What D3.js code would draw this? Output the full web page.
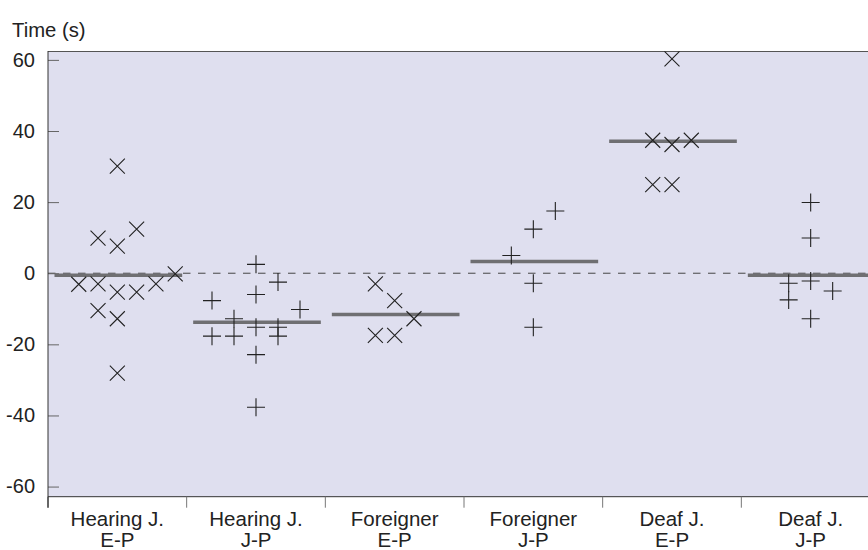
<!DOCTYPE html>
<html><head><meta charset="utf-8">
<script src="https://cdn.jsdelivr.net/npm/d3@7"></script>
<style>body{margin:0;background:#fff;} text{font-family:"Liberation Sans",Arial,sans-serif;fill:#222;}</style>
</head><body><svg id="c" width="868" height="550"></svg>
<script>
// ---- data ----
const categories = ["Hearing J.|E-P","Hearing J.|J-P","Foreigner|E-P","Foreigner|J-P","Deaf J.|E-P","Deaf J.|J-P"];
const markers = ["x","plus","x","plus","x","plus"];
const yTicks = [-60,-40,-20,0,20,40,60];
// each point: [value, column offset index]
const g1Values = [30.1,9.9,7.6,12.4,-0.2,-3.1,-3,-5.3,-5.3,-3,-10.5,-12.8,-28.1];
const g1Cols   = [0,-1,0,1,3,-2,-1,0,1,2,-1,0,0];
const g2Values = [2.5,-2.5,-7.7,-6,-10.2,-12.8,-15.2,-15.2,-17.7,-17.7,-17.7,-22.9,-37.7];
const g2Cols   = [0,1,-2,0,2,-1,0,1,-2,-1,1,0,0];
const g3Values = [-3,-7.7,-12.8,-17.5,-17.5];
const g3Cols   = [-1,0,1,-1,0];
const g4Values = [17.5,12.4,5,-2.8,-15.2];
const g4Cols   = [1,0,-1,0,0];
const g5Values = [60.3,37.4,36.2,37.4,24.9,24.9];
const g5Cols   = [0,-1,0,1,-1,0];
const g6Values = [19.9,9.9,-2.8,-2.2,-5,-7.5,-12.8];
const g6Cols   = [0,0,-1,0,1,-1,0];
const means = [-0.6,-13.8,-11.6,3.3,37.1,-0.6];

const groups = [[g1Values,g1Cols],[g2Values,g2Cols],[g3Values,g3Cols],[g4Values,g4Cols],[g5Values,g5Cols],[g6Values,g6Cols]];

// ---- layout ----
const svg = d3.select("#c");
const L = 48, T = 51, B = 496.7, R = 880;
const x = d3.scaleBand().domain(categories).range([L, R]).padding(0);
const y = d3.scaleLinear().domain([-62.85, 62.5]).range([B, T]);

svg.append("rect").attr("x",L).attr("y",T).attr("width",R-L).attr("height",B-T).attr("fill","#dfdfef");
svg.append("line").attr("x1",L).attr("x2",R).attr("y1",T+0.5).attr("y2",T+0.5).attr("stroke","#555").attr("stroke-width",1);

// zero line
svg.append("line").attr("x1",L).attr("x2",R).attr("y1",y(0)).attr("y2",y(0))
  .attr("stroke","#444").attr("stroke-width",1).attr("stroke-dasharray","7.5,7.5");

// y axis
const yAxis = d3.axisLeft(y).tickValues(yTicks).tickSize(-11).tickPadding(13).tickFormat(d=>String(d));
const ya = svg.append("g").attr("transform",`translate(${L},0)`).call(yAxis);
ya.select(".domain").remove();
ya.selectAll(".tick line").attr("stroke","#666");
ya.selectAll(".tick text").attr("font-size",20).attr("fill","#222").style("font-family","Liberation Sans, Arial, sans-serif");

// x axis
const xa = svg.append("g").attr("transform",`translate(0,${B})`);
xa.append("line").attr("x1",L).attr("x2",R).attr("y1",0).attr("y2",0).attr("stroke","#333");
xa.selectAll("line.tk").data(categories).join("line").attr("class","tk")
  .attr("x1",d=>x(d)).attr("x2",d=>x(d)).attr("y1",0).attr("y2",11).attr("stroke",(d,i)=>i===0?"#333":"#777");
const lab = xa.selectAll("text.lab").data(categories).join("text").attr("class","lab")
  .attr("x",d=>x(d)+x.bandwidth()/2).attr("text-anchor","middle").attr("font-size",20.5);
lab.append("tspan").attr("x",d=>x(d)+x.bandwidth()/2).attr("y",29.3).text(d=>d.split("|")[0]);
lab.append("tspan").attr("x",d=>x(d)+x.bandwidth()/2).attr("y",50.3).text(d=>d.split("|")[1]);

// left axis line
svg.append("line").attr("x1",L).attr("x2",L).attr("y1",T).attr("y2",B+11).attr("stroke","#333");

// title
svg.append("text").attr("x",12).attr("y",37).attr("font-size",20.3).text("Time (s)");

// mean lines
svg.selectAll("line.mean").data(categories).join("line").attr("class","mean")
  .attr("x1",d=>x(d)+6.5).attr("x2",d=>x(d)+x.bandwidth()-4.5)
  .attr("y1",(d,i)=>y(means[i])).attr("y2",(d,i)=>y(means[i]))
  .attr("stroke","#6f6f72").attr("stroke-width",3.5);

// points
const colSpacing = {x:19.3, plus:22};
groups.forEach(([vals,cols],gi)=>{
  const cx = x(categories[gi]) + x.bandwidth()/2;
  const m = markers[gi];
  const g = svg.append("g");
  vals.forEach((v,k)=>{
    const px = cx + cols[k]*colSpacing[m], py = y(v);
    if(m==="x"){
      const s=7.5;
      g.append("path").attr("d",`M${px-s},${py-s}L${px+s},${py+s}M${px-s},${py+s}L${px+s},${py-s}`)
        .attr("stroke","#222").attr("stroke-width",1.1).attr("fill","none");
    } else {
      const s=9;
      g.append("path").attr("d",`M${px-s},${py}L${px+s},${py}M${px},${py-s}L${px},${py+s}`)
        .attr("stroke","#222").attr("stroke-width",1.1).attr("fill","none");
    }
  });
});
</script></body></html>
